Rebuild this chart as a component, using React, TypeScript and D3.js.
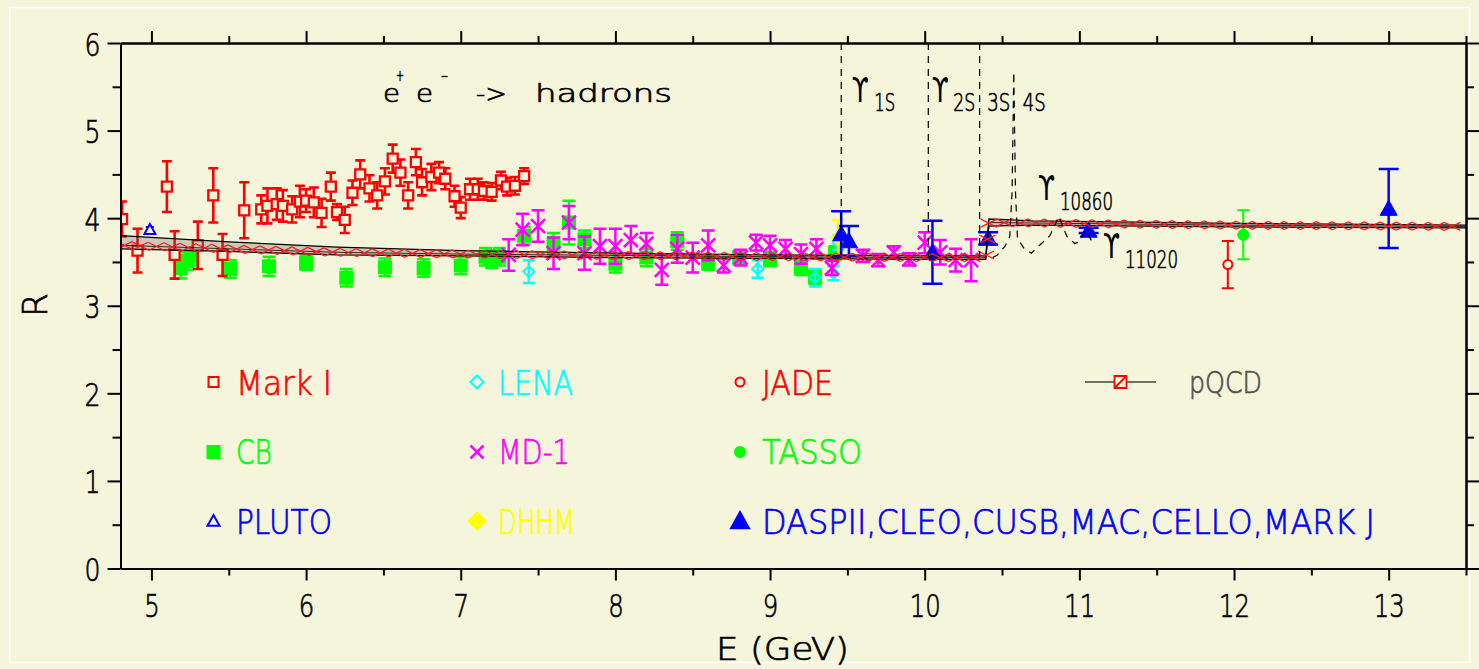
import { useEffect, useRef } from 'react';
import * as d3 from 'd3';

// each point: [E (GeV), R, error]
type Pt = [number, number, number];

const markI: Pt[] = [
  [4.81, 3.99, 0.2], [4.91, 3.63, 0.25], [5.1, 4.36, 0.29], [5.15, 3.58, 0.27], [5.3, 3.69, 0.27],
  [5.4, 4.26, 0.31], [5.46, 3.58, 0.24], [5.6, 4.09, 0.32], [5.71, 4.1, 0.16], [5.75, 4.14, 0.2],
  [5.81, 4.16, 0.18], [5.85, 4.14, 0.18], [5.91, 4.1, 0.15], [5.96, 4.19, 0.18], [6.0, 4.2, 0.13],
  [6.05, 4.18, 0.17], [6.1, 4.06, 0.16], [6.16, 4.36, 0.16], [6.2, 4.07, 0.09], [6.25, 3.98, 0.15],
  [6.3, 4.29, 0.14], [6.35, 4.5, 0.16], [6.41, 4.34, 0.15], [6.46, 4.26, 0.15], [6.51, 4.42, 0.15],
  [6.56, 4.68, 0.16], [6.61, 4.52, 0.15], [6.66, 4.26, 0.15], [6.71, 4.64, 0.15], [6.75, 4.41, 0.15],
  [6.81, 4.47, 0.15], [6.86, 4.52, 0.12], [6.9, 4.45, 0.12], [6.96, 4.25, 0.12], [7.0, 4.12, 0.12],
  [7.06, 4.33, 0.12], [7.11, 4.33, 0.12], [7.15, 4.31, 0.1], [7.2, 4.3, 0.1], [7.26, 4.43, 0.1],
  [7.3, 4.36, 0.1], [7.35, 4.37, 0.1], [7.41, 4.48, 0.09],
];

const cb: Pt[] = [
  [5.19, 3.43, 0.12], [5.23, 3.51, 0.1], [5.26, 3.56, 0.1], [5.51, 3.42, 0.1], [5.76, 3.45, 0.11],
  [6.0, 3.49, 0.08], [6.26, 3.32, 0.1], [6.51, 3.44, 0.1], [6.76, 3.43, 0.1], [7.0, 3.46, 0.1],
  [7.16, 3.56, 0.1], [7.2, 3.53, 0.1], [7.25, 3.56, 0.1], [7.41, 3.8, 0.1], [7.6, 3.71, 0.12],
  [7.7, 3.95, 0.25], [7.8, 3.76, 0.1], [8.0, 3.48, 0.1], [8.2, 3.55, 0.1], [8.4, 3.74, 0.1],
  [8.6, 3.49, 0.08], [8.8, 3.55, 0.08], [9.0, 3.53, 0.08], [9.2, 3.43, 0.08], [9.29, 3.33, 0.08],
  [9.42, 3.6, 0.08],
];

const lena: Pt[] = [
  [7.44, 3.39, 0.13], [8.92, 3.42, 0.1], [9.29, 3.32, 0.1], [9.41, 3.37, 0.08], [9.44, 3.72, 0.08],
];

const md1: Pt[] = [
  [7.31, 3.58, 0.18], [7.4, 3.87, 0.18], [7.5, 3.91, 0.18], [7.6, 3.6, 0.18], [7.7, 3.95, 0.19],
  [7.8, 3.6, 0.19], [7.9, 3.68, 0.2], [8.0, 3.68, 0.2], [8.1, 3.75, 0.16], [8.2, 3.71, 0.12],
  [8.3, 3.41, 0.17], [8.4, 3.65, 0.16], [8.5, 3.55, 0.17], [8.6, 3.69, 0.17], [8.7, 3.46, 0.08],
  [8.81, 3.55, 0.09], [8.91, 3.72, 0.09], [9.0, 3.69, 0.11], [9.1, 3.65, 0.1], [9.2, 3.59, 0.11],
  [9.3, 3.65, 0.11], [9.4, 3.43, 0.08], [9.6, 3.57, 0.07], [9.7, 3.52, 0.07], [9.8, 3.61, 0.07],
  [9.9, 3.53, 0.07], [10.0, 3.72, 0.12], [10.1, 3.61, 0.14], [10.2, 3.52, 0.13], [10.3, 3.52, 0.24],
];

const pluto: Pt[] = [[4.99, 3.87, 0.03]];
const dhhm: Pt[] = [[9.44, 3.78, 0.2]];
const jade: Pt[] = [[11.96, 3.47, 0.27]];
const tasso: Pt[] = [[12.06, 3.81, 0.28]];
const daspEtAl: Pt[] = [
  [9.46, 3.82, 0.26], [9.51, 3.74, 0.17], [10.05, 3.61, 0.36], [10.41, 3.77, 0.07],
  [11.06, 3.86, 0.03], [13.0, 4.11, 0.45],
];

// pQCD band
const pqcdE = [4.8, 5.5, 6.2, 7.0, 8.0, 9.0, 10.0, 10.395, 10.415, 10.7, 12.0, 13.5];
const pqcdHi = [3.8, 3.73, 3.67, 3.63, 3.6, 3.58, 3.57, 3.57, 3.99, 3.97, 3.94, 3.92];
const pqcdMid = [3.69, 3.65, 3.61, 3.59, 3.575, 3.56, 3.55, 3.55, 3.95, 3.945, 3.92, 3.905];
const pqcdLo = [3.65, 3.62, 3.58, 3.57, 3.55, 3.54, 3.53, 3.53, 3.91, 3.92, 3.9, 3.89];

// Upsilon resonances
const upsNarrowE = [9.4603, 10.0233, 10.3552];
const upsNarrowBase = [3.57, 3.56, 3.56];
const resE = [10.44, 10.47, 10.52, 10.55, 10.565, 10.576, 10.587, 10.6, 10.64, 10.69, 10.73, 10.81, 10.867, 10.92, 10.97, 11.0, 11.04, 11.08, 11.1];
const resR = [3.55, 3.58, 3.68, 3.79, 4.3, 5.67, 4.3, 3.77, 3.66, 3.6, 3.67, 3.8, 4.02, 3.79, 3.71, 3.73, 3.86, 3.74, 3.72];

const xTicks = [5, 6, 7, 8, 9, 10, 11, 12, 13];
const yTicks = [0, 1, 2, 3, 4, 5, 6];

const W = 1479;
const H = 669;
const BG = '#f5f5dc';
const FONT = "'DejaVu Sans', 'Liberation Sans', sans-serif";

const markerPath = (kind: string, s: number) => {
  const h = s / 2;
  switch (kind) {
    case 'square':
      return `M${-h},${-h}H${h}V${h}H${-h}Z`;
    case 'diamond':
      return `M0,${-h}L${h},0L0,${h}L${-h},0Z`;
    case 'triangle':
      return `M0,${-h}L${h},${h * 0.8}L${-h},${h * 0.8}Z`;
    case 'x':
      return `M${-h},${-h}L${h},${h}M${-h},${h}L${h},${-h}`;
    default:
      return `M${h},0A${h},${h} 0 1,1 ${-h},0A${h},${h} 0 1,1 ${h},0Z`;
  }
};

// thin plotter-like lettering: extra light face plus a hairline outline
const letter = (t: d3.Selection<any, unknown, null, undefined>, color: string) =>
  t
    .attr('font-family', FONT)
    .attr('font-weight', 200)
    .attr('font-stretch', 'condensed')
    .attr('fill', color)
    .attr('stroke', color)
    .attr('stroke-width', 0.7);

const App = () => {
  const svgRef = useRef<SVGSVGElement>(null!);

  useEffect(() => {
    const svg = d3.select(svgRef.current);
    svg.selectAll('*').remove();

    const x = d3.scaleLinear().domain([4.8, 13.5]).range([120.5, 1466]);
    const y = d3.scaleLinear().domain([0, 6]).range([568.5, 43]);

    svg.append('rect').attr('width', W).attr('height', H).attr('fill', BG);
    svg
      .append('rect')
      .attr('x', 9.5)
      .attr('y', 7.5)
      .attr('width', W - 19)
      .attr('height', H - 14)
      .attr('fill', 'none')
      .attr('stroke', '#fff')
      .attr('stroke-width', 1.5);

    svg
      .append('defs')
      .append('clipPath')
      .attr('id', 'plot-clip')
      .append('rect')
      .attr('x', x(4.8))
      .attr('y', y(6))
      .attr('width', x(13.5) - x(4.8))
      .attr('height', y(0) - y(6));

    const addText = (
      g: d3.Selection<any, unknown, null, undefined>,
      px: number,
      py: number,
      str: string,
      size: number,
      color: string,
      len?: number,
      anchor = 'start'
    ) => {
      const t = g
        .append('text')
        .attr('x', px)
        .attr('y', py)
        .attr('font-size', size)
        .attr('text-anchor', anchor)
        .text(str);
      letter(t, color);
      if (len) t.attr('textLength', len).attr('lengthAdjust', 'spacingAndGlyphs');
      return t;
    };
    // upsilon glyph needs the regular face (hooked arms)
    const ups = (px: number, py: number) =>
      svg
        .append('text')
        .attr('x', px)
        .attr('y', py)
        .attr('font-size', 33)
        .attr('font-family', FONT)
        .attr('font-stretch', 'condensed')
        .attr('fill', '#000')
        .attr('textLength', 17)
        .attr('lengthAdjust', 'spacingAndGlyphs')
        .text('ϒ');

    const series = [
      { name: 'CB', data: cb, color: '#00ff00', kind: 'square', size: 12, filled: true, cap: 13, bw: 2.5, sw: 2 },
      { name: 'LENA', data: lena, color: '#00ffff', kind: 'diamond', size: 11, filled: false, cap: 12, bw: 2.5, sw: 2, see: true },
      { name: 'MD-1', data: md1, color: '#ff00ff', kind: 'x', size: 14, filled: false, cap: 13, bw: 2.5, sw: 2.5 },
      { name: 'Mark I', data: markI, color: '#ff0000', kind: 'square', size: 10, filled: false, cap: 10, bw: 2.6, sw: 2.3 },
      { name: 'PLUTO', data: pluto, color: '#0000ff', kind: 'triangle', size: 11, filled: false, cap: 8, bw: 2, sw: 2 },
      { name: 'DHHM', data: dhhm, color: '#ffff00', kind: 'diamond', size: 14, filled: true, cap: 12, bw: 2.5, sw: 1 },
      { name: 'DASPII,CLEO,CUSB,MAC,CELLO,MARK J', data: daspEtAl, color: '#0000ff', kind: 'triangle', size: 17, filled: true, cap: 20, bw: 2.5, sw: 1 },
      { name: 'JADE', data: jade, color: '#ff0000', kind: 'circle', size: 9, filled: false, cap: 12, bw: 2, sw: 2 },
      { name: 'TASSO', data: tasso, color: '#00ff00', kind: 'circle', size: 11, filled: true, cap: 12, bw: 2, sw: 1 },
    ];

    const plot = svg.append('g').attr('clip-path', 'url(#plot-clip)');

    series.forEach(s => {
      const g = plot.append('g');
      g.selectAll('path.err')
        .data(s.data)
        .enter()
        .append('path')
        .attr('d', d => {
          const cx = x(d[0]);
          const y1 = y(d[1] + d[2]);
          const y2 = y(d[1] - d[2]);
          const c = s.cap / 2;
          return `M${cx - c},${y1}H${cx + c}M${cx},${y1}V${y2}M${cx - c},${y2}H${cx + c}`;
        })
        .attr('fill', 'none')
        .attr('stroke', s.color)
        .attr('stroke-width', s.bw);
      g.selectAll('path.mk')
        .data(s.data)
        .enter()
        .append('path')
        .attr('transform', d => `translate(${x(d[0])},${y(d[1])})`)
        .attr('d', markerPath(s.kind, s.size))
        .attr('fill', s.filled ? s.color : s.kind === 'x' || s.see ? 'none' : BG)
        .attr('stroke', s.color)
        .attr('stroke-width', s.sw);
    });

    // pQCD band
    const idx = d3.range(pqcdE.length);
    const bandArea = d3
      .area<number>()
      .x(i => x(pqcdE[i]))
      .y0(i => y(pqcdLo[i]))
      .y1(i => y(pqcdHi[i]));
    const lineOf = (vals: number[]) =>
      d3
        .line<number>()
        .x(i => x(pqcdE[i]))
        .y(i => y(vals[i]))(idx);
    const band = plot.append('g');
    band.append('path').attr('d', bandArea(idx)).attr('fill', '#666').attr('opacity', 0.3);
    [pqcdHi, pqcdMid, pqcdLo].forEach((v, k) => {
      band
        .append('path')
        .attr('d', lineOf(v))
        .attr('fill', 'none')
        .attr('stroke', '#000')
        .attr('stroke-width', k === 1 ? 0.8 : 1.3);
    });
    const center = band.append('path').attr('d', lineOf(pqcdMid)).attr('fill', 'none').attr('stroke', 'none');
    const node = center.node() as SVGPathElement;
    const total = node.getTotalLength();
    const pts = d3.range(4, total, 16).map(l => node.getPointAtLength(l));
    band
      .selectAll('path.zig')
      .data(pts)
      .enter()
      .append('path')
      .attr('d', p => `M${p.x - 8},${p.y - 4}L${p.x + 8},${p.y + 4}M${p.x - 8},${p.y + 4}L${p.x + 8},${p.y - 4}`)
      .attr('fill', 'none')
      .attr('stroke', '#ff1a1a')
      .attr('stroke-width', 1.3);

    // Upsilon resonance curve (dashed)
    const res = plot.append('g').attr('fill', 'none').attr('stroke', '#000').attr('stroke-width', 1.2).attr('stroke-dasharray', '7,6');
    upsNarrowE.forEach((e, i) => {
      res.append('path').attr('d', `M${x(e)},${y(6)}V${y(upsNarrowBase[i])}`);
    });
    res.append('path').attr(
      'd',
      d3
        .line<number>()
        .x(i => x(resE[i]))
        .y(i => y(resR[i]))(d3.range(resE.length))
    );

    // axes
    const styleAxis = (g: d3.Selection<SVGGElement, unknown, null, undefined>) => {
      g.select('.domain').attr('stroke', '#000').attr('stroke-width', 2);
      g.selectAll('.tick line').attr('stroke', '#000').attr('stroke-width', 2);
    };
    const minorX = d3.range(5.5, 13.6, 1);
    const minorY = d3.range(0.5, 6, 1);

    const bottom = svg
      .append('g')
      .attr('transform', `translate(0,${y(0)})`)
      .call(d3.axisBottom(x).tickValues(xTicks).tickSize(12).tickSizeOuter(0).tickFormat(d3.format('d')));
    styleAxis(bottom);
    letter(bottom.selectAll('.tick text').attr('y', 48.5).attr('dy', 0).attr('font-size', 32) as any, '#000');
    bottom.selectAll('.tick text').each(function () {
      const t = d3.select(this as SVGTextElement);
      t.attr('textLength', t.text().length * 15.5).attr('lengthAdjust', 'spacingAndGlyphs');
    });
    const bottomMinor = svg
      .append('g')
      .attr('transform', `translate(0,${y(0)})`)
      .call(d3.axisBottom(x).tickValues(minorX).tickSize(7).tickSizeOuter(0).tickFormat(() => ''));
    styleAxis(bottomMinor);

    const top = svg
      .append('g')
      .attr('transform', `translate(0,${y(6)})`)
      .call(d3.axisTop(x).tickValues(xTicks).tickSize(12).tickSizeOuter(0).tickFormat(() => ''));
    styleAxis(top);
    const topMinor = svg
      .append('g')
      .attr('transform', `translate(0,${y(6)})`)
      .call(d3.axisTop(x).tickValues(minorX).tickSize(7).tickSizeOuter(0).tickFormat(() => ''));
    styleAxis(topMinor);

    const left = svg
      .append('g')
      .attr('transform', `translate(${x(4.8)},0)`)
      .call(d3.axisLeft(y).tickValues(yTicks).tickSize(13).tickSizeOuter(0).tickFormat(d3.format('d')));
    styleAxis(left);
    letter(
      left
        .selectAll('.tick text')
        .attr('x', -20)
        .attr('y', 12)
        .attr('dy', 0)
        .attr('font-size', 32)
        .attr('textLength', 16)
        .attr('lengthAdjust', 'spacingAndGlyphs') as any,
      '#000'
    );
    const leftMinor = svg
      .append('g')
      .attr('transform', `translate(${x(4.8)},0)`)
      .call(d3.axisLeft(y).tickValues(minorY).tickSize(8).tickSizeOuter(0).tickFormat(() => ''));
    styleAxis(leftMinor);

    const right = svg
      .append('g')
      .attr('transform', `translate(${x(13.5)},0)`)
      .call(d3.axisRight(y).tickValues(yTicks).tickSize(13).tickSizeOuter(0).tickFormat(() => ''));
    styleAxis(right);
    const rightMinor = svg
      .append('g')
      .attr('transform', `translate(${x(13.5)},0)`)
      .call(d3.axisRight(y).tickValues(minorY).tickSize(8).tickSizeOuter(0).tickFormat(() => ''));
    styleAxis(rightMinor);

    // axis titles
    addText(svg, 716, 660, 'E (GeV)', 32, '#000', 133);
    addText(svg, 0, 0, 'R', 34, '#000', 24, 'middle').attr('transform', 'translate(47,305) rotate(-90)');

    // title
    addText(svg, 383, 102, 'e', 24, '#000', 17);
    addText(svg, 396, 81, '+', 15, '#000', 8);
    addText(svg, 416, 102, 'e', 24, '#000', 17);
    addText(svg, 441, 81, '-', 15, '#000', 7);
    addText(svg, 476, 102, '->', 24, '#000', 31);
    addText(svg, 535, 102, 'hadrons', 24, '#000', 137);

    // resonance labels
    ups(x(upsNarrowE[0]) + 10.5, 102);
    addText(svg, x(upsNarrowE[0]) + 33, 111, '1S', 25, '#000', 21);
    ups(x(upsNarrowE[1]) + 3.5, 102);
    addText(svg, x(upsNarrowE[1]) + 25, 111, '2S', 25, '#000', 22);
    addText(svg, x(upsNarrowE[2]) + 7.5, 111, '3S', 25, '#000', 23);
    addText(svg, x(upsNarrowE[2]) + 43, 111, '4S', 25, '#000', 23);
    ups(1038, 200);
    addText(svg, 1060, 210, '10860', 25, '#000', 53);
    ups(1103, 258);
    addText(svg, 1125, 268, '11020', 25, '#000', 53);

    // legend
    const legendOrder = ['Mark I', 'LENA', 'JADE', 'CB', 'MD-1', 'TASSO', 'PLUTO', 'DHHM', 'DASPII,CLEO,CUSB,MAC,CELLO,MARK J'];
    const legendWidths = [96, 75, 71, 36, 72, 100, 96, 77, 613];
    const legendSizes: Record<string, number> = { 'Mark I': 10, LENA: 13, JADE: 9, CB: 12, 'MD-1': 13, TASSO: 10, PLUTO: 12, DHHM: 17, 'DASPII,CLEO,CUSB,MAC,CELLO,MARK J': 18 };
    const colMarker = [213.5, 477, 740];
    const colText = [236, 498, 762];
    const rowMarker = [382, 452, 521];
    const rowText = [395, 463.5, 534];
    const legend = svg.append('g');
    legendOrder.forEach((name, i) => {
      const s = series.find(d => d.name === name)!;
      const c = i % 3;
      const r = Math.floor(i / 3);
      legend
        .append('path')
        .attr('transform', `translate(${colMarker[c]},${rowMarker[r]})`)
        .attr('d', markerPath(s.kind, legendSizes[name]))
        .attr('fill', s.filled ? s.color : BG)
        .attr('stroke', s.color)
        .attr('stroke-width', s.kind === 'x' ? 2.5 : 2);
      addText(legend, colText[c], rowText[r], name, 34, s.color, legendWidths[i]);
    });
    legend.append('path').attr('d', 'M1085,382H1156').attr('stroke', '#444').attr('stroke-width', 1.3);
    legend
      .append('path')
      .attr('transform', 'translate(1120.5,382)')
      .attr('d', `${markerPath('square', 12)}M-6,6L6,-6`)
      .attr('fill', BG)
      .attr('stroke', '#ff0000')
      .attr('stroke-width', 1.8);
    addText(legend, 1189, 393, 'pQCD', 30, '#505050', 73);
  }, []);

  return (
    <svg
      ref={svgRef}
      width={W}
      height={H}
      style={{ position: 'absolute', left: 0, top: 0, display: 'block' }}
    ></svg>
  );
};

export default App;
